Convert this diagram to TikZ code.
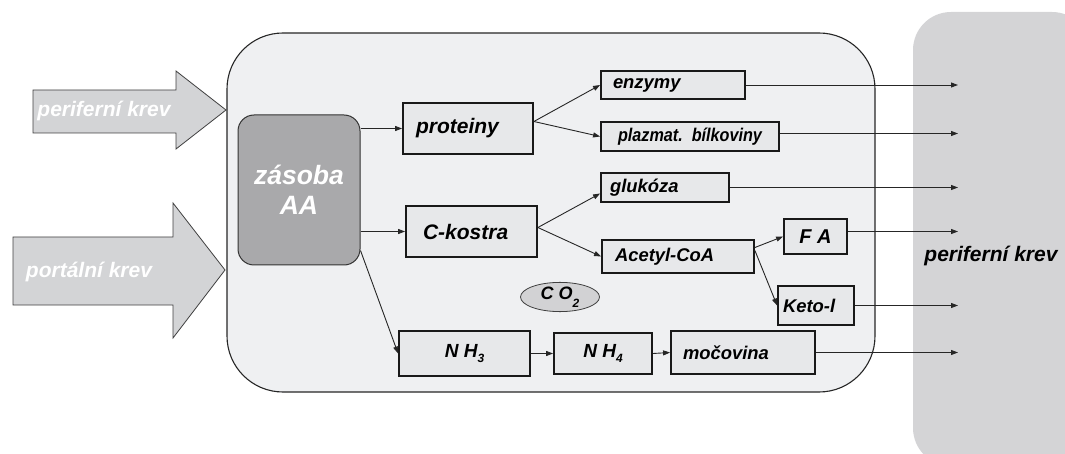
\documentclass[tikz,border=0pt]{standalone}
\usepackage{fontspec}
\setmainfont{Liberation Sans}
\usepackage{graphicx}
\usetikzlibrary{arrows.meta,shapes.geometric}
\definecolor{bgrect}{HTML}{EFF0F2}
\definecolor{boxfill}{HTML}{E7E8EA}
\definecolor{arrfill}{HTML}{D3D4D6}
\definecolor{zasfill}{HTML}{A9A9AB}
\definecolor{cylfill}{HTML}{D4D4D6}
\definecolor{co2fill}{HTML}{D2D2D4}
\begin{document}
\begin{tikzpicture}[x=1pt,y=-1pt,
  box/.style={draw=black!90, line width=1.8pt, fill=boxfill, inner ysep=0pt,
              font=\bfseries\itshape\fontsize{18.4}{21}\selectfont},
  bigbox/.style={box, font=\bfseries\itshape\fontsize{21}{24}\selectfont},
  conn/.style={draw=black!85, line width=0.9pt, -{Triangle[length=7pt,width=5pt]}},
  bigarrow/.style={draw=black!75, line width=0.8pt, fill=arrfill},
  whitetxt/.style={text=white, font=\bfseries\itshape\fontsize{21}{24}\selectfont}
]
\useasboundingbox (0,0) rectangle (1065,454);
% right cylinder (peripheral blood)
\begin{scope}
  \clip (0,0) rectangle (1065,454);
  \fill[cylfill, rounded corners=38] (913,12) rectangle (1090,466);
\end{scope}
\node[font=\bfseries\itshape\fontsize{21}{24}\selectfont] (pkr) at (991,256) {periferní krev};
% incoming arrows
\draw[bigarrow] (33,90) -- (176,90) -- (176,71) -- (226,110) -- (176,149) -- (176,133) -- (33,133) -- cycle;
\node[whitetxt] (pk) at (104,111) {periferní krev};
\draw[bigarrow] (13,237) -- (173,237) -- (173,203) -- (225,270) -- (173,338) -- (173,305) -- (13,305) -- cycle;
\node[whitetxt] (ptk) at (89,272) {portální krev};
% liver cell
\draw[draw=black!85, line width=1.1pt, fill=bgrect, rounded corners=56] (227,33) rectangle (875,392);
% storage
\node[draw=black!80, line width=1pt, fill=zasfill, rounded corners=16,
      minimum width=122pt, minimum height=150pt, align=center, text=white,
      font=\bfseries\itshape\fontsize{26.5}{30}\selectfont] (zas) at (299,190) {zásoba\\AA};
% boxes
\node[bigbox, minimum width=130pt, minimum height=51pt, inner xsep=13pt, text width=104pt, align=left] (prot) at (468,128.5) {proteiny};
\node[bigbox, minimum width=131pt, minimum height=51pt, inner xsep=17pt, text width=97pt, align=left] (ck) at (471.5,231.5) {C-kostra};
\node[box, minimum width=144pt, minimum height=28pt, inner xsep=12pt, text width=120pt, align=left] (enz) at (673,85) {enzymy};
\node[box, minimum width=178pt, minimum height=29pt] (plaz) at (690,136.5) {\scalebox{0.88}[1]{plazmat.\ \ bílkoviny}};
\node[box, minimum width=128pt, minimum height=29pt, inner xsep=9pt, text width=110pt, align=left] (gluk) at (665,187.5) {glukóza};
\node[box, minimum width=152pt, minimum height=33pt, inner xsep=13pt, text width=126pt, align=left] (acet) at (678,256.5) {Acetyl-CoA};
\node[box, minimum width=63pt, minimum height=35pt, font=\bfseries\itshape\fontsize{20}{22}\selectfont] (fa) at (815.5,236.5) {F A};
\node[box, minimum width=76pt, minimum height=39pt, inner xsep=5pt, text width=66pt, align=left] (keto) at (816,305.5) {Keto-l};
\node[box, minimum width=144pt, minimum height=43pt, inner xsep=12pt, text width=120pt, align=left] (moc) at (743,352.5) {močovina};
\node[box, minimum width=131pt, minimum height=45pt, font=\bfseries\itshape\fontsize{19}{22}\selectfont] (nh3) at (464.5,353.5) {N H\raisebox{-0.3em}{\fontsize{12}{12}\selectfont 3}};
\node[box, minimum width=98pt, minimum height=41pt, font=\bfseries\itshape\fontsize{19}{22}\selectfont] (nh4) at (603,353.5) {N H\raisebox{-0.3em}{\fontsize{12}{12}\selectfont 4}};
\node[ellipse, draw=black!75, line width=0.8pt, fill=co2fill, minimum width=79pt, minimum height=28pt, inner sep=0pt,
      font=\bfseries\itshape\fontsize{18}{20}\selectfont] (co2) at (560,297) {C O\raisebox{-0.45em}{\fontsize{12}{12}\selectfont 2}};
% internal connectors
\draw[conn] (zas.east |- prot.west) -- (prot.west);
\draw[conn] (zas.east |- ck.west) -- (ck.west);
\draw[conn] ([yshift=15pt]zas.south east) -- (nh3.west);
\draw[conn] ([yshift=7pt]prot.east) -- (enz.west);
\draw[conn] ([yshift=7pt]prot.east) -- (plaz.west);
\draw[conn] ([yshift=4pt]ck.east) -- ([yshift=-6pt]gluk.west);
\draw[conn] ([yshift=4pt]ck.east) -- (acet.west);
\draw[conn] ([yshift=9pt]acet.east) -- (fa.west);
\draw[conn] ([yshift=6pt]acet.east) -- (keto.west);
\draw[conn] (nh3.east) -- (nh4.west);
\draw[conn] (nh4.east) -- (moc.west);
% outgoing connectors
\coordinate (rx) at (958,0);
\draw[conn] (enz.east) -- (enz.east -| rx);
\draw[conn] ([yshift=3pt]plaz.east) -- ([yshift=3pt]plaz.east -| rx);
\draw[conn] (gluk.east) -- (gluk.east -| rx);
\draw[conn] ([yshift=5pt]fa.east) -- ([yshift=5pt]fa.east -| rx);
\draw[conn] (keto.east) -- (keto.east -| rx);
\draw[conn] (moc.east) -- (moc.east -| rx);
\end{tikzpicture}
\end{document}
